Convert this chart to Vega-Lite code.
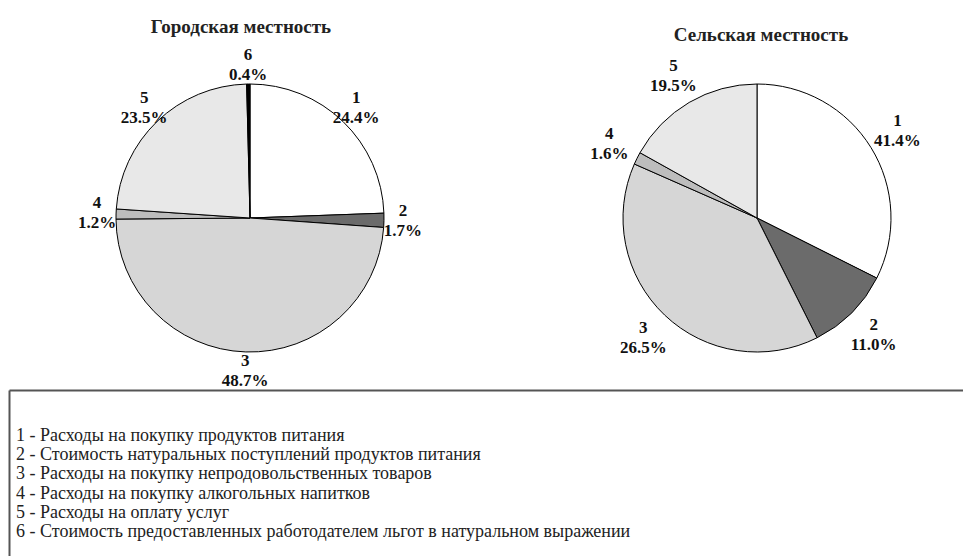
{
  "$schema": "https://vega.github.io/schema/vega-lite/v6.json",
  "autosize": {"type": "pad"},
  "padding": {"left": 9, "top": 18, "right": 0, "bottom": 0},
  "background": "white",
  "config": {"view": {"stroke": null}, "font": "Liberation Serif"},
  "datasets": {
    "urban": [
      {"k": 1, "share": 24.4, "pct": "24.4%"},
      {"k": 2, "share": 1.7, "pct": "1.7%"},
      {"k": 3, "share": 48.7, "pct": "48.7%"},
      {"k": 4, "share": 1.2, "pct": "1.2%"},
      {"k": 5, "share": 23.5, "pct": "23.5%"},
      {"k": 6, "share": 0.4, "pct": "0.4%"}
    ],
    "rural": [
      {"k": 1, "share": 32.4, "pct": "41.4%"},
      {"k": 2, "share": 10.2, "pct": "11.0%"},
      {"k": 3, "share": 39.0, "pct": "26.5%"},
      {"k": 4, "share": 1.5, "pct": "1.6%"},
      {"k": 5, "share": 16.9, "pct": "19.5%"}
    ],
    "legend": [
      {"n": 1, "t": "1 - Расходы на покупку продуктов питания"},
      {"n": 2, "t": "2 - Стоимость натуральных поступлений продуктов питания"},
      {"n": 3, "t": "3 - Расходы на покупку непродовольственных товаров"},
      {"n": 4, "t": "4 - Расходы на покупку алкогольных напитков"},
      {"n": 5, "t": "5 - Расходы на оплату услуг"},
      {"n": 6, "t": "6 - Стоимость предоставленных работодателем льгот в натуральном выражении"}
    ]
  },
  "spacing": 1,
  "vconcat": [
    {
      "bounds": "flush",
      "spacing": 76,
      "hconcat": [
        {
          "width": 482,
          "height": 300,
          "title": {"text": "Городская местность", "font": "Liberation Serif", "fontSize": 19, "fontWeight": "bold", "color": "#222", "offset": 9, "dx": -9, "anchor": "middle"},
          "data": {"name": "urban"},
          "transform": [{"calculate": "[datum.k + '', datum.pct]", "as": "lbl"}],
          "encoding": {
            "theta": {"field": "share", "type": "quantitative", "stack": true},
            "order": {"field": "k", "type": "quantitative", "sort": "ascending"}
          },
          "layer": [
            {
              "mark": {"type": "arc", "outerRadius": 134, "stroke": "#000", "strokeWidth": 1},
              "encoding": {
                "color": {"field": "k", "type": "nominal", "legend": null,
                  "scale": {"domain": [1, 2, 3, 4, 5, 6], "range": ["#ffffff", "#6b6b6b", "#d6d6d6", "#bdbdbd", "#e8e8e8", "#000000"]}}
              }
            },
            {
              "mark": {"type": "text", "radius": 153, "dy": -10, "lineHeight": 20, "font": "Liberation Serif", "fontSize": 17, "fontWeight": "bold", "color": "#111"},
              "encoding": {"detail": {"field": "k"}, "text": {"field": "lbl"}}
            }
          ]
        },
        {
          "width": 380,
          "height": 300,
          "title": {"text": "Сельская местность", "font": "Liberation Serif", "fontSize": 19, "fontWeight": "bold", "color": "#222", "offset": 12, "dx": 4, "anchor": "middle"},
          "data": {"name": "rural"},
          "transform": [{"calculate": "[datum.k + '', datum.pct]", "as": "lbl"}],
          "encoding": {
            "theta": {"field": "share", "type": "quantitative", "stack": true},
            "order": {"field": "k", "type": "quantitative", "sort": "ascending"}
          },
          "layer": [
            {
              "mark": {"type": "arc", "outerRadius": 134, "stroke": "#000", "strokeWidth": 1},
              "encoding": {
                "color": {"field": "k", "type": "nominal", "legend": null,
                  "scale": {"domain": [1, 2, 3, 4, 5, 6], "range": ["#ffffff", "#5e5e5e", "#d6d6d6", "#bdbdbd", "#e8e8e8", "#000000"]}}
              }
            },
            {
              "mark": {"type": "text", "radius": 165, "dy": -10, "lineHeight": 20, "font": "Liberation Serif", "fontSize": 17, "fontWeight": "bold", "color": "#111"},
              "encoding": {"detail": {"field": "k"}, "text": {"field": "lbl"}}
            }
          ]
        }
      ]
    },
    {
      "width": 954,
      "height": 166,
      "data": {"name": "legend"},
      "mark": {"type": "text", "align": "left", "baseline": "middle", "font": "Liberation Serif", "fontSize": 18, "dx": 7, "color": "#222"},
      "encoding": {
        "x": {"datum": 0, "type": "quantitative", "scale": {"domain": [0, 1]},
          "axis": {"orient": "top", "domain": true, "domainColor": "#555", "domainWidth": 2, "ticks": false, "labels": false, "grid": false, "title": null}},
        "y": {"field": "n", "type": "quantitative", "scale": {"domain": [-1.396, 7.25], "reverse": true, "nice": false, "zero": false},
          "axis": {"orient": "left", "domain": true, "domainColor": "#555", "domainWidth": 2, "ticks": false, "labels": false, "grid": false, "title": null}},
        "text": {"field": "t"}
      }
    }
  ]
}
